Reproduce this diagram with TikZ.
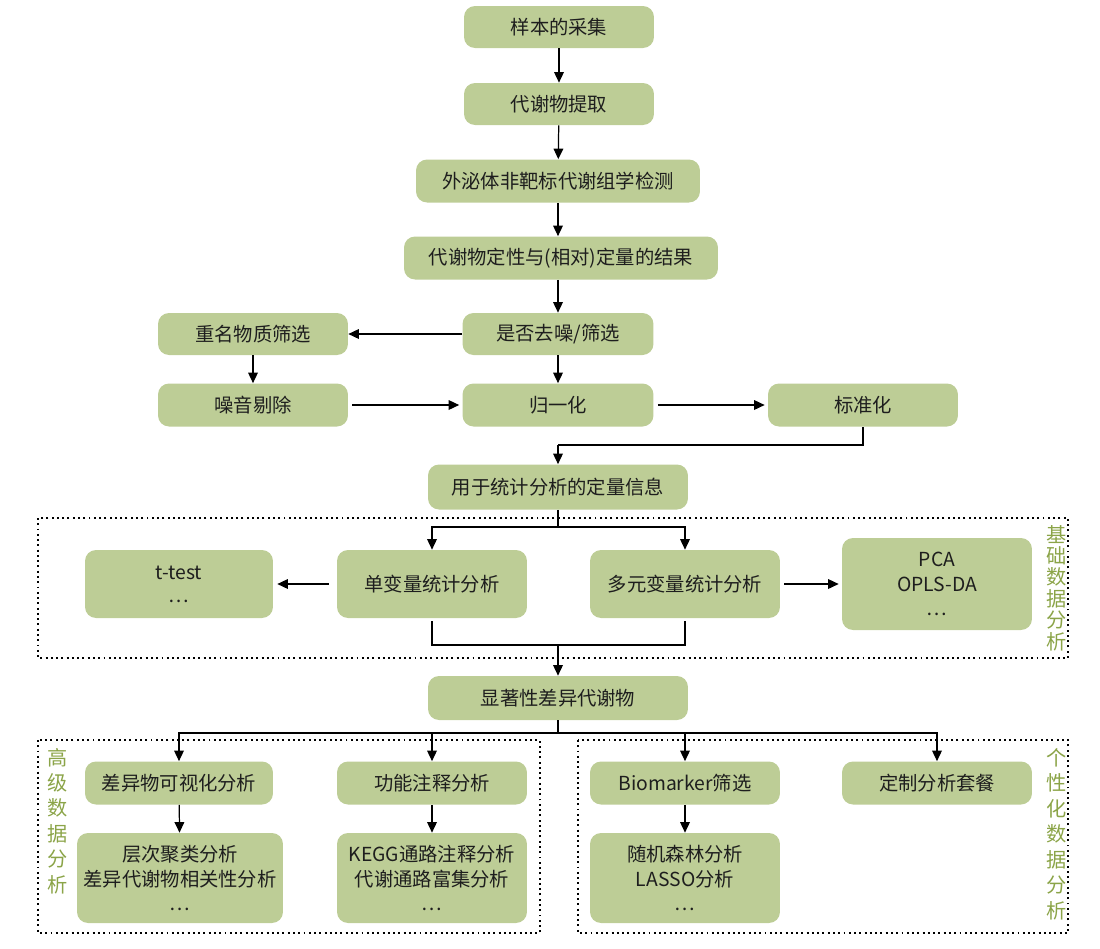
\documentclass[tikz,border=0pt]{standalone}
\usepackage{fontspec}
\setmainfont{Noto Sans CJK SC}
\usetikzlibrary{arrows.meta}
\definecolor{boxfill}{HTML}{BDCD96}
\definecolor{lblgreen}{HTML}{8BA448}
\definecolor{txt}{HTML}{1E1E1E}
\tikzset{
  box/.style={fill=boxfill, rounded corners=0.22cm, inner sep=0pt, text=txt,
    font=\fontsize{11pt}{14pt}\selectfont, align=center},
  arr/.style={line width=0.7pt, -{Triangle[length=6pt,width=5.5pt]}},
  ln/.style={line width=0.7pt},
  dotbox/.style={line width=0.6pt, dash pattern=on 1.1pt off 1.9pt},
  vlbl/.style={text=lblgreen, font=\fontsize{11.5pt}{14.5pt}\selectfont, align=center, inner sep=0pt}
}
\begin{document}
\begin{tikzpicture}[x=0.02cm,y=-0.02cm]
\useasboundingbox (0,0) rectangle (1100,948);
% dotted frames
\draw[dotbox] (38,518) rectangle (1068,658);
\draw[dotbox] (38,740) rectangle (540,933);
\draw[dotbox] (578,740) rectangle (1068,933);
% nodes
\node[box, minimum width=3.8cm, minimum height=0.84cm] (n1) at (559,27) {样本的采集};
\node[box, minimum width=3.8cm, minimum height=0.84cm] (n2) at (559,104) {代谢物提取};
\node[box, minimum width=5.68cm, minimum height=0.86cm] (n3) at (558,181) {外泌体非靶标代谢组学检测};
\node[box, minimum width=6.28cm, minimum height=0.86cm] (n4) at (561,258) {代谢物定性与(相对)定量的结果};
\node[box, minimum width=3.82cm, minimum height=0.84cm] (n5) at (558,334) {是否去噪/筛选};
\node[box, minimum width=3.8cm, minimum height=0.84cm] (n6) at (253,334) {重名物质筛选};
\node[box, minimum width=3.8cm, minimum height=0.86cm] (n7) at (253,405) {噪音剔除};
\node[box, minimum width=3.82cm, minimum height=0.86cm] (n8) at (558,405) {归一化};
\node[box, minimum width=3.8cm, minimum height=0.86cm] (n9) at (863,405) {标准化};
\node[box, minimum width=5.2cm, minimum height=0.9cm] (n10) at (558,487) {用于统计分析的定量信息};
\node[box, minimum width=3.76cm, minimum height=1.36cm] (n11) at (179,584) {t-test\\[-1pt]…};
\node[box, minimum width=3.8cm, minimum height=1.36cm] (n12) at (432,584) {单变量统计分析};
\node[box, minimum width=3.8cm, minimum height=1.36cm] (n13) at (685,584) {多元变量统计分析};
\node[box, minimum width=3.8cm, minimum height=1.84cm] (n14) at (937,584) {PCA\\OPLS-DA\\…};
\node[box, minimum width=5.2cm, minimum height=0.88cm] (n15) at (558,698) {显著性差异代谢物};
\node[box, minimum width=3.76cm, minimum height=0.86cm] (n16) at (179,783) {差异物可视化分析};
\node[box, minimum width=3.8cm, minimum height=0.86cm] (n17) at (432,783) {功能注释分析};
\node[box, minimum width=3.8cm, minimum height=0.86cm] (n18) at (685,783) {Biomarker筛选};
\node[box, minimum width=3.8cm, minimum height=0.86cm] (n19) at (937,783) {定制分析套餐};
\node[box, minimum width=4.12cm, minimum height=1.8cm] (n20) at (180,878) {层次聚类分析\\差异代谢物相关性分析\\…};
\node[box, minimum width=3.8cm, minimum height=1.8cm] (n21) at (432,878) {KEGG通路注释分析\\代谢通路富集分析\\…};
\node[box, minimum width=3.8cm, minimum height=1.8cm] (n22) at (685,878) {随机森林分析\\LASSO分析\\…};
% vertical labels
\node[vlbl] (l1) at (1057,588) {基\\[-2.3pt]础\\[-2.3pt]数\\[-2.3pt]据\\[-2.3pt]分\\[-2.3pt]析};
\node[vlbl] (l2) at (58,821) {高\\级\\数\\据\\分\\析};
\node[vlbl] (l3) at (1057,834) {个\\性\\化\\数\\据\\分\\析};
% coordinates
\coordinate (c9) at (863,445);
\coordinate (c10) at (558,445);
\coordinate (j1) at (558,527);
\coordinate (j2) at (558,645);
\coordinate (j3) at (558,733);
% connectors
\draw[arr] (n1) -- (n2);
\draw[arr] (n2) -- (n3);
\draw[arr] (n3.south) -- (n3.south |- n4.north);
\draw[arr] (n4.south -| n5) -- (n5);
\draw[arr] (n5) -- (n6);
\draw[arr] (n6) -- (n7);
\draw[arr] (n5) -- (n8);
\draw[arr] ([xshift=0.08cm]n7.east) -- ([xshift=-0.06cm]n8.west);
\draw[arr] ([xshift=0.08cm]n8.east) -- ([xshift=-0.06cm]n9.west);
\draw[ln] (n9.south) -- (c9) -- (c10);
\draw[arr] (c10) -- (n10);
\draw[ln] (n10) -- (j1);
\draw[arr] (j1) -| (n12.north);
\draw[arr] (j1) -| (n13.north);
\draw[arr] ([xshift=-0.16cm]n12.west) -- ([xshift=0.08cm]n11.east);
\draw[arr] ([xshift=0.08cm]n13.east) -- ([xshift=-0.06cm]n14.west);
\draw[ln] ([yshift=-0.06cm]n12.south) |- (j2);
\draw[ln] ([yshift=-0.06cm]n13.south) |- (j2);
\draw[arr] (j2) -- (n15);
\draw[ln] (n15) -- (j3);
\draw[arr] (j3) -| (n16.north);
\draw[arr] (j3) -| (n17.north);
\draw[arr] (j3) -| (n18.north);
\draw[arr] (j3) -| (n19.north);
\draw[arr] (n16) -- (n20);
\draw[arr] (n17) -- (n21);
\draw[arr] (n18) -- (n22);
\end{tikzpicture}
\end{document}
